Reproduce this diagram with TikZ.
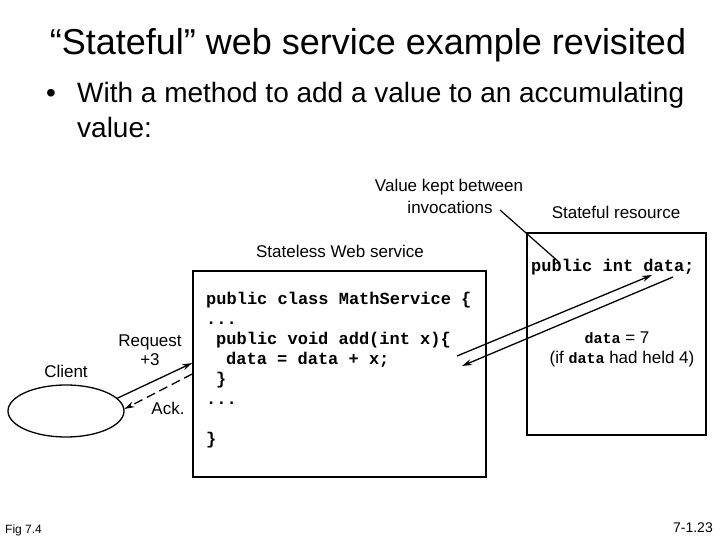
\documentclass[tikz,border=0pt]{standalone}
\usepackage{fontspec}
\setmainfont{Liberation Sans}
\setmonofont{Liberation Mono}
\usetikzlibrary{arrows.meta, shapes.geometric, positioning}

\begin{document}
\begin{tikzpicture}[x=1pt, y=-1pt,
            label text/.style={font=\fontsize{17}{20}\selectfont, inner sep=0pt},
            code line/.style={font=\fontsize{17}{20}\selectfont\ttfamily\bfseries,
                anchor=base west, inner sep=0pt},
            bullet text/.style={font=\fontsize{28}{34}\selectfont, anchor=base west, inner sep=0pt},
            box/.style={draw, line width=1.6pt, rectangle, inner sep=0pt},
            arrow/.style={-{Stealth[length=10pt, width=6pt]}, line width=1.3pt}]
            \useasboundingbox (0,0) rectangle (720,540);

            % Title and bullet
            \node (title) [anchor=base, font=\fontsize{36}{42}\selectfont]
                at (368,55) {``Stateful'' web service example revisited};
            \node (dot) [bullet text] at (46,103) {\textbullet};
            \node (bullet1) [bullet text] at (77,103) {With a method to add a value to an accumulating};
            \node (bullet2) [bullet text] at (77,138) {value:};

            % Client
            \node (client) [draw, ellipse, line width=1.3pt,
                minimum width=116pt, minimum height=52pt] at (66,411) {};
            \node (client label) [label text] at (66,371) {Client};

            % Stateless Web service
            \node (service) [box, minimum width=293pt, minimum height=206pt] at (339.5,374) {};
            \node (service label) [label text] at (340,251) {Stateless Web service};
            \node (code1) [code line] at (206,304) {public class MathService \{};
            \node (code2) [code line] at (206,324) {...};
            \node (code3) [code line] at (216,344) {public void add(int x)\{};
            \node (code4) [code line] at (226,364) {data = data + x;};
            \node (code5) [code line] at (216,384) {\}};
            \node (code6) [code line] at (206,404) {...};
            \node (code7) [code line] at (206,444) {\}};

            % Stateful resource
            \node (resource) [box, minimum width=179pt, minimum height=202pt] at (616.5,334) {};
            \node (resource label) [label text] at (616,212) {Stateful resource};
            \node (field) [code line] at (531,271) {public int data;};
            \node (result) [label text] at (617,338)
                {{\fontsize{15}{18}\selectfont\ttfamily\bfseries data} = 7};
            \node (result note) [label text] at (622,359)
                {(if {\fontsize{15}{18}\selectfont\ttfamily\bfseries data} had held 4)};

            % Annotation
            \node (kept) [label text] at (449,187) {Value kept between};
            \node (invoc) [label text] at (450,207) {invocations};
            \coordinate (kept start) at (500,210);
            \coordinate (kept end) at (560,263);
            \draw [line width=1.2pt] (kept start) -- (kept end);

            % Request and acknowledgement
            \node (request) [label text, align=center, font=\fontsize{17}{19}\selectfont]
                at (150,350) {Request\\+3};
            \node (ack) [label text] at (168,408) {Ack.};
            \draw [arrow] (client.14) -- ([yshift=11pt]service.west);
            \draw [arrow, dashed, dash pattern=on 9pt off 5pt] (service.west) -- (client.2);

            % Access to the stored value
            \coordinate (call start) at (457,356);
            \coordinate (call end) at (652,275);
            \coordinate (back start) at (673,277);
            \coordinate (back end) at (462,366);
            \draw [arrow] (call start) -- (call end);
            \draw [arrow] (back start) -- (back end);

            % Footer
            \node (fig) [anchor=base west, inner sep=0pt, font=\fontsize{12}{14}\selectfont]
                at (5,533) {Fig 7.4};
            \node (page) [anchor=base east, inner sep=0pt, font=\fontsize{14}{16}\selectfont]
                at (713,532) {7-1.23};
\end{tikzpicture}
\end{document}
